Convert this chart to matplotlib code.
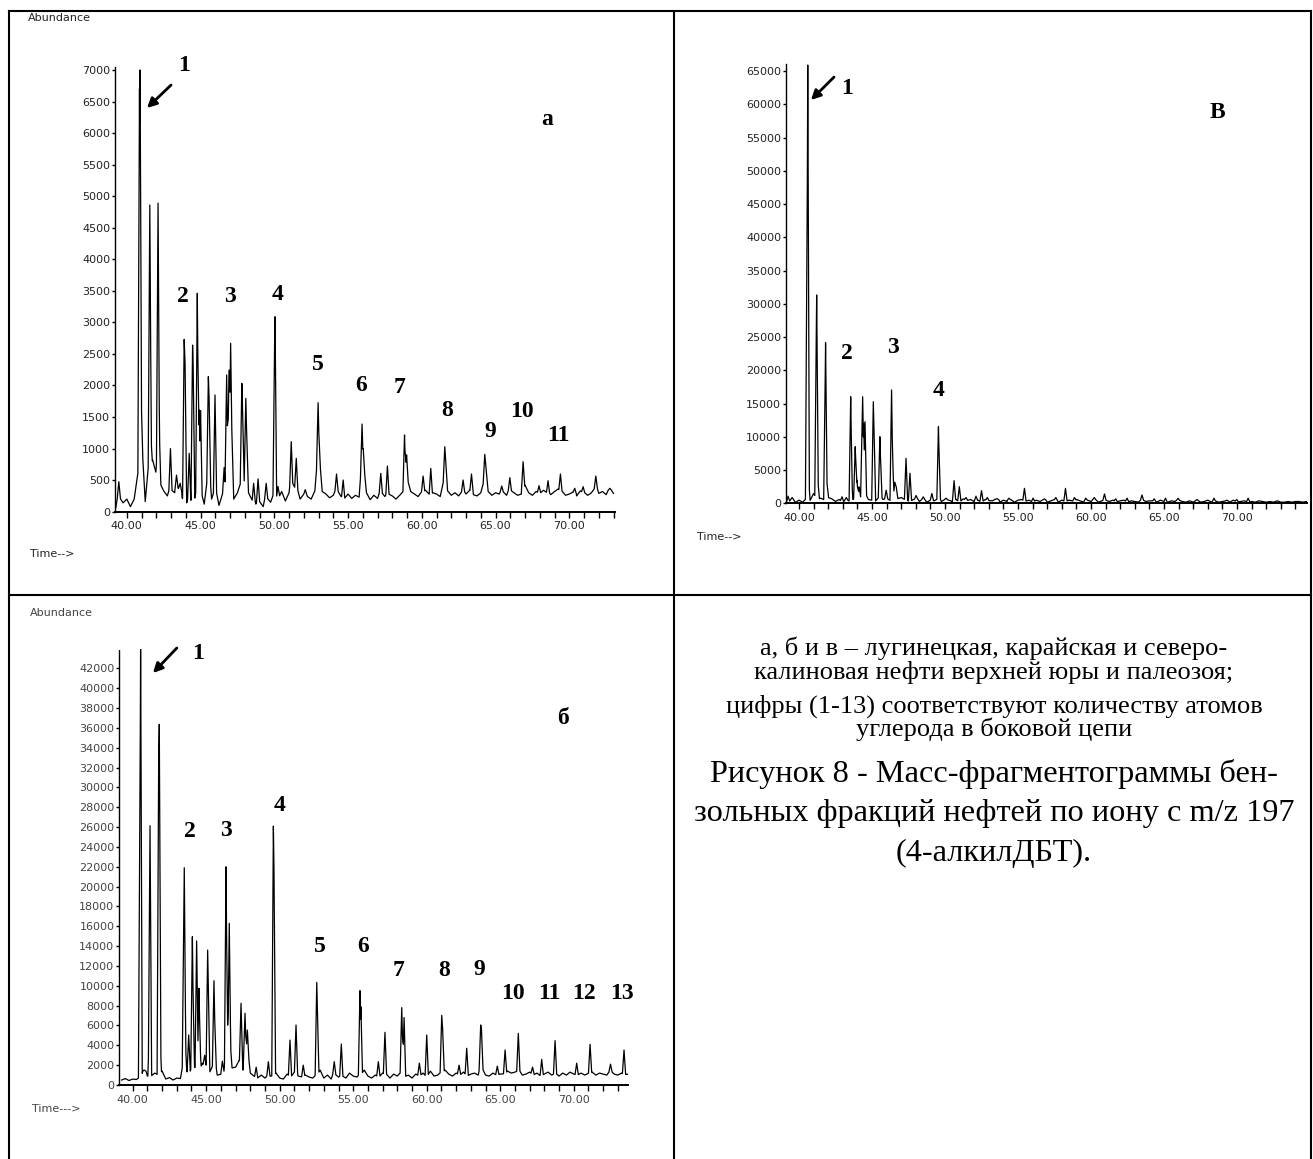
import numpy as np
import matplotlib
matplotlib.use("Agg")
import matplotlib.pyplot as plt
from matplotlib.lines import Line2D
from matplotlib.ticker import MultipleLocator, FixedLocator

# ---------------- data ----------------
# Panel "а" (лугинецкая)
A_BASE_T0 = 39.25
A_BASE = [60, 230, 140, 200,
          80, 200, 420, 850, 160, 650, 820, 600, 380, 330, 250, 350,
          300, 380, 220, 120, 200, 150, 300, 250, 120, 480, 200, 300,
          100, 220, 380, 600, 200, 300, 420, 500, 300, 180, 120, 160,
          80, 220, 150, 260, 200, 320, 170, 300, 450, 330, 200, 280,
          240, 200, 330, 700, 320, 280, 220, 260, 330, 250, 200, 280,
          210, 260, 230, 600, 300, 190, 260, 210, 300, 240, 280, 250,
          200, 260, 230, 500, 320, 280, 240, 300, 340, 260, 300, 280,
          240, 500, 330, 260, 300, 250, 320, 280, 340, 270, 250, 300,
          450, 320, 260, 300, 280, 320, 260, 340, 300, 260, 280, 420,
          300, 260, 320, 290, 340, 300, 270, 320, 360, 300, 260, 280,
          310, 250, 330, 290, 260, 300, 380, 290, 320, 270, 340, 290]
A_PEAK_T = [39.46, 40.86, 40.90, 40.98, 41.56, 41.62, 42.08, 42.12, 42.20, 42.96,
            43.37, 43.62, 43.89, 43.95, 44.23, 44.46, 44.50, 44.78, 44.85, 44.92,
            45.00, 45.53, 45.58, 45.98, 46.60, 46.77, 46.93, 47.04, 47.12, 47.80,
            47.85, 48.07, 48.12, 48.60, 48.90, 49.45, 50.02, 50.05, 50.25, 51.15,
            51.49, 52.10, 52.97, 53.02, 54.22, 54.67, 55.95, 56.03, 57.22, 57.67,
            58.83, 58.97, 60.09, 60.61, 61.56, 61.62, 62.80, 63.37, 64.27, 64.35,
            65.42, 65.97, 66.87, 67.95, 68.56, 69.40, 70.37, 70.94, 71.80, 72.75]
A_PEAK_H = [475, 6700, 7000, 1750, 4860, 1300, 1200, 4890, 1300, 1000,
            580, 450, 2730, 2350, 925, 2640, 2300, 3460, 2000, 1611,
            1600, 2140, 1800, 1850, 700, 2166, 2245, 2668, 1300, 2034,
            1600, 1796, 1300, 450, 520, 450, 2650, 3090, 400, 1110,
            845, 350, 1727, 1200, 597, 502, 1389, 1000, 608, 724,
            1215, 900, 565, 687, 1030, 800, 502, 597, 909, 700,
            407, 539, 792, 412, 491, 597, 371, 396, 565, 371]
A_YTICKS = list(range(0, 7001, 500))

# Panel "в" (северо-калиновая)
V_BASE_T0 = 39.25
V_BASE = [200, 600, 150, 500,
          200, 700, 300, 1500, 600, 800, 500, 900, 700, 300, 600, 200,
          500, 300, 700, 400, 900, 1200, 600, 500, 300, 900, 600, 700,
          300, 800, 700, 900, 600, 300, 500, 700, 300, 600, 200, 500,
          400, 700, 300, 600, 500, 300, 600, 200, 700, 400, 600, 300,
          500, 200, 600, 300, 400, 700, 200, 500, 300, 600, 200, 500,
          600, 300, 500, 200, 500, 300, 600, 200, 400, 600, 200, 500,
          300, 500, 200, 600, 400, 200, 500, 300, 600, 200, 400, 500,
          300, 500, 200, 400, 500, 200, 400, 300, 200, 500, 300, 400,
          400, 200, 500, 300, 200, 400, 300, 500, 300, 200, 400, 200,
          400, 200, 300, 500, 200, 400, 200, 300, 400, 200, 500, 200,
          300, 400, 200, 300, 200, 400, 300, 200, 300, 200, 400, 200,
          200, 300, 200, 300, 300, 200, 300, 200]
V_PEAK_T = [39.25, 39.53, 40.55, 40.57, 40.60, 40.65, 41.19, 41.21, 41.29, 41.80,
            41.82, 41.92, 42.95, 43.24, 43.54, 43.58, 43.85, 43.97, 44.12, 44.33,
            44.36, 44.43, 44.52, 45.09, 45.14, 45.54, 45.58, 45.97, 46.34, 46.39,
            46.56, 46.66, 47.33, 47.60, 48.02, 48.51, 49.10, 49.55, 49.58, 50.07,
            50.62, 50.98, 51.44, 52.12, 52.50, 52.90, 53.59, 54.37, 55.44, 56.03,
            56.81, 57.59, 58.25, 58.86, 59.64, 60.22, 60.92, 61.69, 62.47, 63.49,
            64.32, 65.10, 65.96, 67.25, 68.42, 69.30, 69.98, 70.76]
V_PEAK_H = [1100, 900, 40000, 44900, 65900, 4000, 27000, 31340, 3500, 19000,
            24170, 3000, 1000, 900, 16050, 5000, 8540, 3500, 2500, 13000,
            16050, 12000, 12300, 15300, 11000, 10040, 7000, 2000, 17060, 9000,
            3200, 2500, 6790, 4540, 1200, 1000, 1500, 11540, 7000, 800,
            3430, 2530, 900, 1100, 1930, 900, 700, 800, 2280, 800,
            700, 900, 2280, 900, 800, 900, 1430, 700, 800, 1280,
            700, 800, 780, 600, 800, 500, 600, 800]
V_YTICKS = list(range(0, 65001, 5000))

# Panel "б" (карайская)
B_BASE_T0 = 39.25
B_BASE = [500, 650, 450, 600,
          550, 700, 1500, 900, 900, 1200, 1000, 1400, 600, 750, 500, 700,
          650, 1800, 1200, 1500, 1800, 1400, 2200, 1500, 1200, 2000, 1000, 800,
          1500, 2500, 1200, 1800, 2500, 1500, 2800, 1200, 900, 600, 1000, 700,
          900, 800, 1200, 700, 600, 1100, 800, 1300, 900, 700, 1000, 800,
          700, 900, 1500, 700, 1000, 600, 1100, 800, 900, 700, 1200, 900,
          800, 1000, 1500, 900, 700, 1000, 800, 1200, 1000, 700, 1100, 900,
          1300, 800, 1000, 700, 1100, 900, 1200, 800, 1400, 900, 1000, 1200,
          1500, 1100, 900, 1200, 1000, 1300, 900, 1100, 1200, 1000, 1600, 1000,
          900, 1200, 1000, 1100, 1000, 1400, 1200, 1300, 1400, 1000, 1100, 1300,
          1000, 1200, 900, 1100, 1300, 1000, 1100, 900, 1200, 1000, 1300, 1100,
          1000, 1200, 1000, 1100, 1300, 1000, 1200, 1100, 1000, 1300, 1100, 1000,
          1200, 1000, 1100, 1000]
B_PEAK_T = [40.50, 40.52, 40.54, 40.80, 41.14, 41.18, 41.77, 41.81, 41.85, 43.48,
            43.51, 43.56, 43.81, 44.06, 44.10, 44.35, 44.51, 44.55, 44.90, 45.10,
            45.14, 45.53, 45.58, 46.10, 46.35, 46.39, 46.57, 46.65, 47.37, 47.64,
            47.80, 48.40, 49.23, 49.57, 49.61, 50.70, 51.11, 51.60, 52.52, 52.56,
            53.71, 54.19, 55.46, 55.52, 56.71, 57.16, 58.30, 58.46, 59.50, 60.00,
            61.02, 61.08, 62.20, 62.72, 63.67, 63.72, 64.80, 65.33, 66.23, 67.20,
            67.82, 68.73, 70.20, 71.11, 72.50, 73.42]
B_PEAK_H = [31150, 20000, 44350, 1500, 5700, 26140, 33250, 36360, 5700, 17600,
            21900, 5000, 5040, 14950, 9100, 14520, 9750, 5000, 3000, 13600,
            10200, 10510, 6500, 2400, 22000, 13000, 16300, 4000, 8240, 7230,
            5540, 1800, 2350, 26100, 21800, 4530, 6050, 2000, 10350, 7800,
            2350, 4130, 9510, 7900, 2350, 5310, 7800, 6800, 2200, 5040,
            7020, 5700, 2000, 3700, 6050, 5700, 1900, 3530, 5210, 1800,
            2590, 4470, 2200, 4100, 2100, 3530]
B_YTICKS = list(range(0, 42001, 2000))

X_LABEL_TICKS = [40, 45, 50, 55, 60, 65, 70]

CAPTION_1 = ["а, б и в – лугинецкая, карайская и северо-",
             "калиновая нефти верхней юры и палеозоя;"]
CAPTION_2 = ["цифры (1-13) соответствуют количеству атомов",
             "углерода в боковой цепи"]
CAPTION_3 = ["Рисунок 8 - Масс-фрагментограммы бен-",
             "зольных фракций нефтей по иону с m/z 197",
             "(4-алкилДБТ)."]

# ---------------- figure ----------------
W, H, DPI = 1313, 1159, 100
fig = plt.figure(figsize=(W / DPI, H / DPI), dpi=DPI)
fig.patch.set_facecolor("white")


def fx(x):
    return x / W


def fy(y):
    return 1 - y / H


def trace(t0, base, peak_t, peak_h, w=0.11):
    base_v = np.asarray(base, float)
    base_t = t0 + 0.25 * np.arange(len(base_v))
    pt = np.asarray(peak_t, float)
    ph = np.asarray(peak_h, float)
    xs = np.unique(np.concatenate([base_t, pt, pt - w, pt + w]))
    ys = np.interp(xs, base_t, base_v)
    for t, h in zip(pt, ph):
        b = np.interp(t, base_t, base_v)
        mask = np.abs(xs - t) <= w
        tri = h - (h - b) * np.abs(xs[mask] - t) / w
        ys[mask] = np.maximum(ys[mask], tri)
    return xs, ys


TICK_FONT = dict(family="DejaVu Sans", size=8)
LBL_FONT = dict(family="Liberation Serif", weight="bold", size=17)


def make_panel(box, xlim, ylim, yticks, t0, base, pt, ph, tick_color="#222222"):
    left, right, bottom, top = box
    ax = fig.add_axes([fx(left), fy(bottom), (right - left) / W, (bottom - top) / H])
    xs, ys = trace(t0, base, pt, ph)
    ax.plot(xs, ys, color="black", lw=0.9)
    ax.set_xlim(*xlim)
    ax.set_ylim(*ylim)
    ax.patch.set_alpha(0)
    for s in ("top", "right"):
        ax.spines[s].set_visible(False)
    ax.spines["left"].set_linestyle((0, (1, 1)))
    ax.spines["left"].set_linewidth(1.0)
    ax.spines["bottom"].set_linewidth(1.4)
    ax.xaxis.set_major_locator(FixedLocator(X_LABEL_TICKS))
    ax.xaxis.set_minor_locator(MultipleLocator(1))
    ax.set_xticklabels([f"{v:.2f}" for v in X_LABEL_TICKS])
    ax.set_yticks(yticks)
    ax.set_yticklabels([str(v) for v in yticks])
    ax.tick_params(axis="x", which="both", length=4, width=1, direction="out", pad=3,
                   labelsize=TICK_FONT["size"], labelcolor=tick_color)
    ax.tick_params(axis="y", length=2, width=1, pad=1.5,
                   labelsize=TICK_FONT["size"], labelcolor=tick_color)
    for lab in ax.get_xticklabels() + ax.get_yticklabels():
        lab.set_family(TICK_FONT["family"])
    return ax


def arrow(ax, tail, head):
    ax.annotate("", xy=head, xytext=tail, annotation_clip=False,
                arrowprops=dict(arrowstyle="-|>", lw=2, color="black",
                                mutation_scale=14, shrinkA=0, shrinkB=0))


def labels(ax, items):
    for s, t, v in items:
        ax.text(t, v, s, ha="center", va="center", clip_on=False, **LBL_FONT)


# Panel а
ax_a = make_panel((115, 615, 511.7, 66.8), (39.2, 73.1), (0, 7050), A_YTICKS,
                  A_BASE_T0, A_BASE, A_PEAK_T, A_PEAK_H)
labels(ax_a, [("1", 43.88, 7063), ("2", 43.83, 3418), ("3", 46.99, 3418),
              ("4", 50.2, 3434), ("5", 52.98, 2325), ("6", 55.86, 1992),
              ("7", 58.52, 1971), ("8", 61.69, 1601), ("9", 64.62, 1268),
              ("10", 66.81, 1585), ("11", 69.25, 1200), ("а", 68.49, 6208)])
arrow(ax_a, (43.0, 6761), (41.37, 6397))

# Panel в
ax_v = make_panel((786, 1307, 503.5, 64.4), (39.11, 74.79), (0, 66000), V_YTICKS,
                  V_BASE_T0, V_BASE, V_PEAK_T, V_PEAK_H)
labels(ax_v, [("1", 43.29, 62446), ("2", 43.27, 22619), ("3", 46.46, 23520),
              ("4", 49.54, 17058), ("В", 68.63, 58838)])
arrow(ax_v, (42.40, 64100), (40.82, 60643))

# Panel б
ax_b = make_panel((119.3, 628, 1085, 648.5), (39.09, 73.69), (0, 44000), B_YTICKS,
                  B_BASE_T0, B_BASE, B_PEAK_T, B_PEAK_H, tick_color="#444444")
labels(ax_b, [("1", 44.44, 43544), ("2", 43.9, 25532), ("3", 46.35, 25703),
              ("4", 50.02, 28223), ("5", 52.74, 13940), ("6", 55.65, 13940),
              ("7", 58.07, 11592), ("8", 61.18, 11592), ("9", 63.58, 11662),
              ("10", 65.89, 9243), ("11", 68.32, 9243), ("12", 70.7, 9243),
              ("13", 73.27, 9243), ("б", 69.27, 36992)])
arrow(ax_b, (43.0, 44048), (41.38, 41528))

# axis captions
small = dict(family="DejaVu Sans", size=8, ha="left", va="center")
fig.text(fx(28), fy(18), "Abundance", color="#222222", **small)
fig.text(fx(30), fy(554), "Time-->", color="#222222", **small)
fig.text(fx(697), fy(537), "Time-->", color="#222222", **small)
fig.text(fx(30), fy(613), "Abundance", color="#444444", **small)
fig.text(fx(32), fy(1109), "Time--->", color="#444444", **small)

# table grid
for xs_, ys_ in [((8.5, 8.5), (11, H)), ((674.5, 674.5), (11, H)), ((1311, 1311), (11, H)),
                 ((8.5, 1311), (11, 11)), ((8.5, 1311), (594.5, 594.5))]:
    fig.add_artist(Line2D([fx(v) for v in xs_], [fy(v) for v in ys_],
                          transform=fig.transFigure, color="black", lw=1.5))

# caption text fitted to measured widths
fig.canvas.draw()
rend = fig.canvas.get_renderer()


def fit_size(line, target):
    t = fig.text(0, 0, line, family="Liberation Serif", size=20)
    wpx = t.get_window_extent(rend).width
    t.remove()
    return 20 * target / wpx


s12 = fit_size(CAPTION_1[1], 479)
s3 = fit_size(CAPTION_3[0], 570)
CX = 994
for line, y in zip(CAPTION_1 + CAPTION_2, [648, 672, 706, 729]):
    fig.text(fx(CX), fy(y), line, family="Liberation Serif", size=s12,
             ha="center", va="center")
for line, y in zip(CAPTION_3, [774, 814, 853]):
    fig.text(fx(CX), fy(y), line, family="Liberation Serif", size=s3,
             ha="center", va="center")

fig.savefig("out.png", dpi=DPI, facecolor="white")
